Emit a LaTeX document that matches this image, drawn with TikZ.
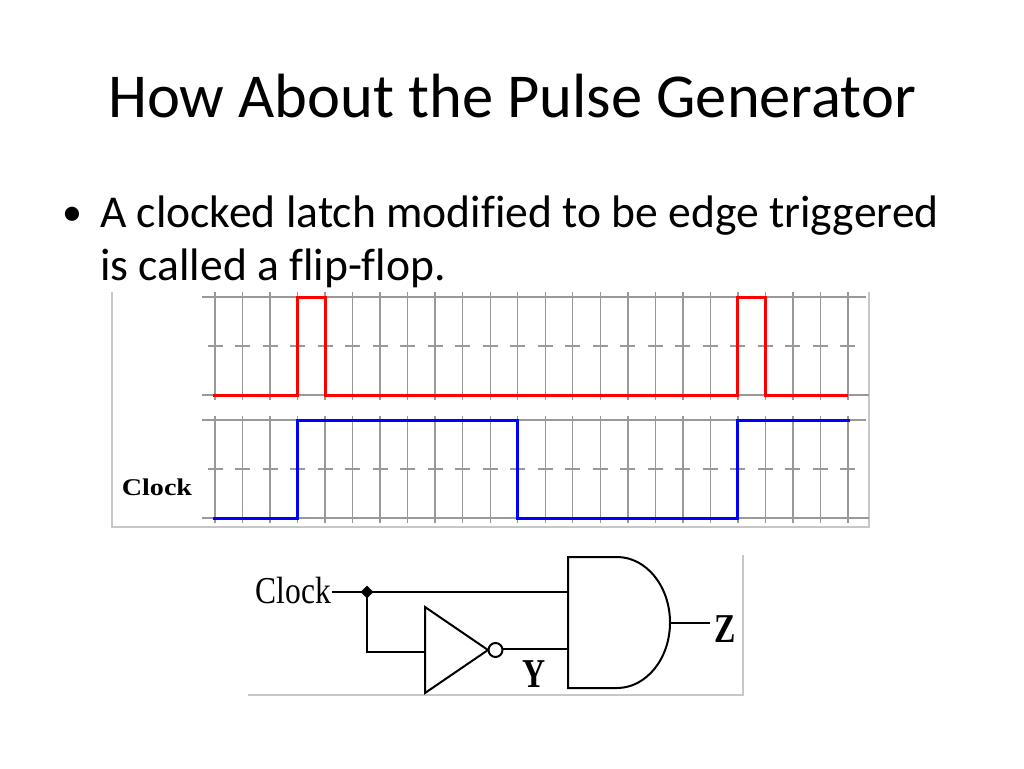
\documentclass[tikz,border=0pt]{standalone}
\usepackage{fontspec}
\setmainfont[Ligatures=NoCommon]{Carlito}
\newfontfamily\circfont{Liberation Serif}
\usetikzlibrary{shapes.geometric}
\begin{document}
\begin{tikzpicture}[x=1pt,y=-1pt,
    gridline/.style={draw=black!40,line width=1.4pt},
    frameline/.style={draw=black!22,line width=1.2pt},
    wave/.style={line width=3pt,line join=miter},
    wire/.style={line width=2pt},
    slidetext/.style={inner sep=0pt,font=\fontsize{45.6}{54}\selectfont}]
  \useasboundingbox (0,0) rectangle (1024,768);

  % slide text
  \node[inner sep=0pt,anchor=base,font=\fontsize{62.5}{75}\selectfont] (title) at (512,117) {How About the Pulse Generator};
  \node[slidetext,anchor=base west,font=\fontsize{40}{48}\selectfont] (bullet) at (62,225) {\textbullet};
  \node[slidetext,anchor=base west] (line1) at (100,227) {A clocked latch modified to be edge triggered};
  \node[slidetext,anchor=base west] (line2) at (100,280) {is called a flip-flop.};

  % timing frame
  \draw[frameline] (112,292) -- (112,527) -- (869,527) -- (869,292);
  \draw[gridline] (202,297) -- (866,297);
  \draw[gridline] (202,395) -- (869,395);
  \draw[gridline] (202,420) -- (866,420);
  \draw[gridline] (202,518) -- (869,518);
  \foreach \i in {0,...,23} {
    \draw[gridline] ({215+27.52*\i},292) -- ({215+27.52*\i},400);
    \draw[gridline] ({215+27.52*\i},416) -- ({215+27.52*\i},523);
    \draw[gridline] ({207.5+27.52*\i},346) -- ({222.5+27.52*\i},346);
    \draw[gridline] ({207.5+27.52*\i},469) -- ({222.5+27.52*\i},469);
  }

  % waveforms
  \draw[wave,red] (213,395) -- (297.6,395) -- (297.6,297) -- (325.1,297) -- (325.1,395)
    -- (737.9,395) -- (737.9,297) -- (765.4,297) -- (765.4,395) -- (848,395);
  \draw[wave,blue] (213,518) -- (297.6,518) -- (297.6,420) -- (517.7,420) -- (517.7,518)
    -- (737.9,518) -- (737.9,420) -- (850,420);
  \node[inner sep=0pt,font=\circfont\bfseries\fontsize{24}{28}\selectfont,xscale=1.17] (clocklbl) at (157,487) {Clock};

  % circuit frame
  \draw[frameline] (248,695) -- (743,695) -- (743,555);

  % gates
  \draw[wire] (425,607) -- (488,650) -- (425,693) -- cycle;
  \draw[wire] (495.5,650) circle[radius=7pt];
  \draw[wire] (568,557) -- (617,557) arc[start angle=90,end angle=-90,x radius=53pt,y radius=65.5pt]
    -- (568,688) -- cycle;

  % pins
  \node[inner sep=0pt,anchor=base east,font=\circfont\fontsize{38}{44}\selectfont,xscale=0.83] (clk) at (331,603) {Clock};
  \coordinate (clkin) at (332,592);
  \node[diamond,fill,inner sep=0pt,minimum size=13pt] (jn) at (367,592) {};
  \coordinate (bend) at (367,652);
  \coordinate (notin) at (425,652);
  \coordinate (notout) at (502.5,649);
  \coordinate (andin1) at (568,592);
  \coordinate (andin2) at (568,649);
  \coordinate (andout) at (670,623);
  \coordinate (zend) at (710,623);
  \node[inner sep=0pt,anchor=base west,font=\circfont\bfseries\fontsize{41}{48}\selectfont,xscale=0.78] (ylbl) at (522,687) {Y};
  \node[inner sep=0pt,anchor=base west,font=\circfont\bfseries\fontsize{41}{48}\selectfont,xscale=0.78] (zlbl) at (714,642) {Z};

  % draw wires
  \draw[wire] (clkin) -- (jn.center) -- (andin1);
  \draw[wire] (jn.center) -- (bend) -- (notin);
  \draw[wire] (notout) -- (andin2);
  \draw[wire] (andout) -- (zend);
\end{tikzpicture}
\end{document}
